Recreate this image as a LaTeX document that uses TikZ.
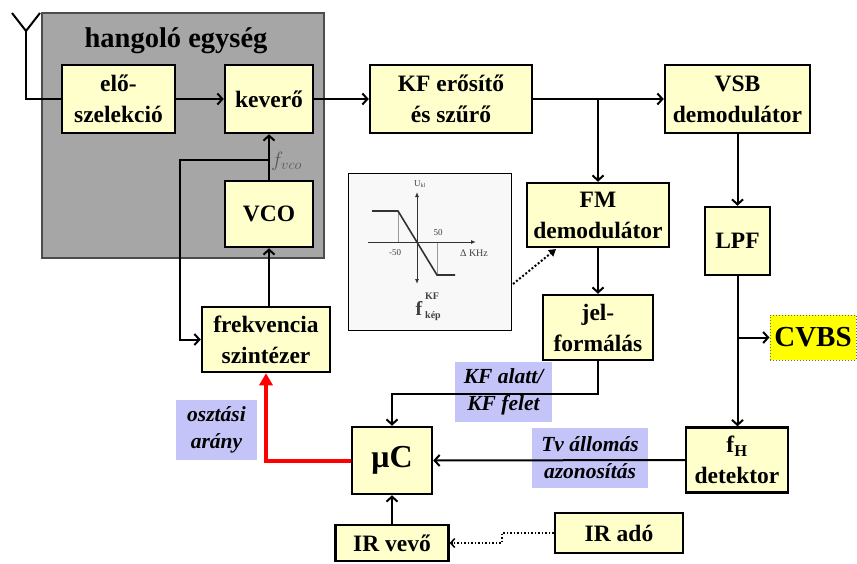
\documentclass[tikz,border=0pt]{standalone}
\usepackage{fontspec}
\setmainfont{Liberation Serif}
\usetikzlibrary{arrows.meta}
\definecolor{boxyellow}{RGB}{255,255,204}
\definecolor{tunergray}{RGB}{166,166,166}
\definecolor{lav}{RGB}{196,196,248}
\definecolor{cvbsyellow}{RGB}{255,255,0}
\definecolor{insetbg}{RGB}{248,248,248}
\begin{document}
\begin{tikzpicture}[x=1pt,y=-1pt,
  blk/.style={draw=black, line width=2.5pt, fill=boxyellow, align=center,
    font=\fontsize{23.5}{31}\selectfont\bfseries, inner sep=0pt},
  conn/.style={line width=2pt, -{Straight Barb[length=5pt,width=11pt,line width=2pt]}},
  plain/.style={line width=2pt},
  lbl/.style={fill=lav, align=center, font=\fontsize{21.5}{27}\selectfont\bfseries\itshape, inner sep=0pt},
  small/.style={font=\fontsize{9}{10}\selectfont, text=black!75, inner sep=0pt}]
\useasboundingbox (0,0) rectangle (857,563);

% tuner area
\node[draw=black!70, line width=1.5pt, fill=tunergray, minimum width=282pt, minimum height=245pt, inner sep=0pt] (tuner) at (183,135.5) {};
\node[font=\fontsize{28.5}{30}\selectfont\bfseries, inner sep=0pt] (tunertitle) at (176,41) {hangoló egység};

% labels (under the lines)
\node[lbl, minimum width=81pt, minimum height=60pt] (oszt) at (216.5,430) {osztási\\arány};
\node[lbl, minimum width=97pt, minimum height=60pt] (kfalatt) at (503.5,392) {KF alatt/\\KF felet};
\node[lbl, minimum width=116pt, minimum height=60pt] (tvall) at (590,458) {Tv állomás\\azonosítás};

% blocks
\node[blk, minimum width=113pt, minimum height=68pt] (elo) at (118.5,99) {elő-\\szelekció};
\node[blk, minimum width=88pt, minimum height=68pt] (kev) at (269,99) {keverő};
\node[blk, minimum width=88pt, minimum height=66pt] (vco) at (269,214) {VCO};
\node[blk, minimum width=128pt, minimum height=65pt] (frek) at (266,339.5) {frekvencia\\szintézer};
\node[blk, minimum width=162pt, minimum height=68pt] (kf) at (451,99) {KF erősítő\\és szűrő};
\node[blk, minimum width=145pt, minimum height=68pt] (vsb) at (737.5,99) {VSB\\demodulátor};
\node[blk, minimum width=142pt, minimum height=64pt] (fm) at (598,215) {FM\\demodulátor};
\node[blk, minimum width=110pt, minimum height=65pt] (jel) at (598,327.5) {jel-\\formálás};
\node[blk, minimum width=65pt, minimum height=68pt] (lpf) at (737.5,241) {LPF};
\node[blk, minimum width=102pt, minimum height=65pt] (fh) at (737,460) {f\textsubscript{H}\\detektor};
\node[blk, minimum width=80pt, minimum height=67pt, font=\fontsize{32}{34}\selectfont\bfseries] (muc) at (392,460.5) {μC};
\node[blk, minimum width=113pt, minimum height=36pt] (irv) at (392,543) {IR vevő};
\node[blk, minimum width=128pt, minimum height=40pt] (irado) at (619,533) {IR adó};
\node[draw=black!60, dotted, line width=1pt, fill=cvbsyellow, minimum width=86pt, minimum height=45pt, inner sep=0pt,
  font=\fontsize{29}{30}\selectfont\bfseries] (cvbs) at (813,337.5) {CVBS};

% antenna
\coordinate (antl) at (12,13);
\coordinate (antr) at (40,13);
\coordinate (ant) at (26,31);
\draw[plain] (antl) -- (ant) -- (antr);
\draw[plain] (ant) |- (elo.west);

% connectors
\draw[conn] (elo.east) -- (kev.west);
\draw[conn] (kev.east) -- (kf.west);
\draw[conn] (kf.east) -- (vsb.west);
\draw[conn] (kf.east -| fm.north) -- (fm.north);
\draw[conn] (vco.north) -- (kev.south);
\coordinate (ftap) at (269,160);
\coordinate (fbk) at (180,160);
\draw[conn] (ftap) -- (fbk) |- (frek.west);
\node[anchor=west, inner sep=0pt, text=black!65, font=\fontsize{22}{22}\selectfont] (fvcolbl) at (271,161) {$f_{vco}$};
\draw[conn] (vco.south |- frek.north) -- (vco.south);
\draw[conn] (vsb.south) -- (lpf.north -| vsb.south);
\draw[conn] (lpf.south) -- (fh.north -| lpf.south);
\draw[conn] (lpf.south |- cvbs.west) -- (cvbs.west);
\draw[conn] (fm.south) -- (jel.north);
\draw[conn] (jel.south) -- ++(0,33) -| (muc.north);
\draw[conn] (fh.west) -- (muc.east);
\draw[conn] (irv.north) -- (muc.south);
\draw[red, line width=4pt, -{Triangle[length=12pt,width=13pt]}] (muc.west) -| (frek.south);
\draw[line width=1.5pt, dotted, -{Straight Barb[length=4pt,width=9pt,line width=1.5pt]}] (irado.west) -- ++(-52,0) |- (irv.east);

% inset characteristic
\node[draw=black, line width=1pt, fill=insetbg, minimum width=163pt, minimum height=157pt, inner sep=0pt] (inset) at (429.5,251.5) {};
\draw[black!40, line width=0.6pt] (398,211) -- (398,242);
\draw[black!40, line width=0.6pt] (437,242) -- (437,275);
\draw[black!80, line width=1pt, -{Latex[length=5pt,width=4pt]}] (368,242) -- (476,242);
\draw[black!80, line width=1pt, {Latex[length=5pt,width=4pt]}-{Latex[length=5pt,width=4pt]}] (417,284) -- (417,192);
\draw[black!80, line width=1.6pt] (372,211) -- (398,211) -- (437,275) -- (455,275);
\node[small] (ukl) at (420,184) {U\textsubscript{kl}};
\node[small] (m50) at (395,253) {-50};
\node[small] (p50) at (438,233) {50};
\node[small, font=\fontsize{10}{11}\selectfont] (dkhz) at (474,253) {Δ KHz};
\node[inner sep=0pt, text=black!75, font=\fontsize{20}{20}\selectfont\bfseries] (fkep) at (419,308) {f};
\node[anchor=west, inner sep=0pt, text=black!75, font=\fontsize{10}{10}\selectfont\bfseries] (fkepkf) at (425,296) {KF};
\node[anchor=west, inner sep=0pt, text=black!75, font=\fontsize{10}{10}\selectfont\bfseries] (fkepsub) at (425,316) {kép};
\coordinate (dotA) at (513,284);
\coordinate (dotB) at (556,249);
\draw[line width=2pt, dotted, -{Triangle[length=7pt,width=8pt]}] (dotA) -- (dotB);
\end{tikzpicture}
\end{document}
